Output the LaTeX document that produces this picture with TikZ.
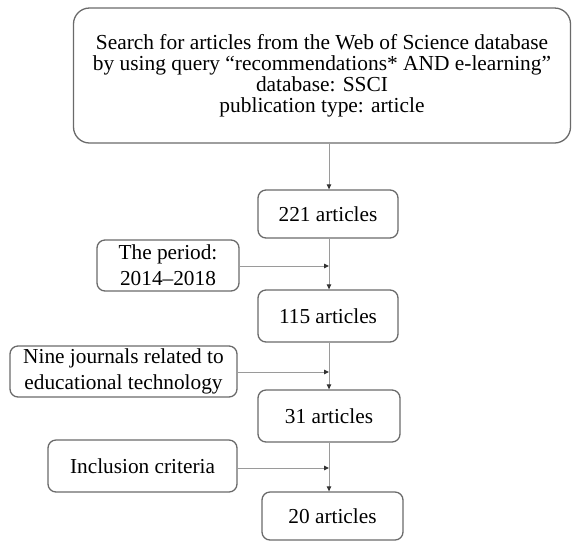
\documentclass[tikz,border=0pt]{standalone}
\usepackage{fontspec}
\setmainfont{Liberation Serif}
\usetikzlibrary{arrows.meta}
\definecolor{boxline}{HTML}{6A6A6A}
\definecolor{conn}{HTML}{9A9A9A}
\definecolor{tipc}{HTML}{333333}
\begin{document}
\begin{tikzpicture}[x=1pt,y=-1pt,
  box/.style={draw=boxline,line width=1.3pt,rounded corners=8pt,inner sep=0pt,align=center,font=\fontsize{21.3}{26}\selectfont},
  conn/.style={draw=conn,line width=1pt,-{Triangle[length=5pt,width=4.5pt,color=tipc]}}]
\useasboundingbox (0,0) rectangle (572,542);
\node[box,rounded corners=16pt,minimum width=497pt,minimum height=135pt,font=\fontsize{21.4}{21}\selectfont] (top) at (322,75.5)
  {Search for articles from the Web of Science database\\by using query “recommendations* AND e-learning”\\database: SSCI\\publication type: article};
\node[box,minimum width=140pt,minimum height=48pt] (a221) at (328,214) {221 articles};
\node[box,minimum width=142pt,minimum height=51pt] (per) at (168,265.5) {The period:\\2014–2018};
\node[box,minimum width=140pt,minimum height=52pt] (a115) at (328,316) {115 articles};
\node[box,minimum width=227pt,minimum height=51pt] (nine) at (123.5,371.5) {Nine journals related to\\educational technology};
\node[box,minimum width=142pt,minimum height=52pt] (a31) at (329,416) {31 articles};
\node[box,minimum width=189pt,minimum height=52pt] (inc) at (142.5,466) {Inclusion criteria};
\node[box,minimum width=141pt,minimum height=48pt] (a20) at (332.5,516) {20 articles};
\coordinate (j1) at (329,266);
\coordinate (j2) at (329,372);
\coordinate (j3) at (329,468);
\draw[conn] (top.south -| 329,0) -- (a221.north -| 329,0);
\draw[conn] (a221.south -| 329,0) -- (a115.north -| 329,0);
\draw[conn] (a115.south -| 329,0) -- (a31.north -| 329,0);
\draw[conn] (a31.south -| 329,0) -- (a20.north -| 329,0);
\draw[conn] (per.east |- j1) -- (j1);
\draw[conn] (nine.east |- j2) -- (j2);
\draw[conn] (inc.east |- j3) -- (j3);
\end{tikzpicture}
\end{document}
